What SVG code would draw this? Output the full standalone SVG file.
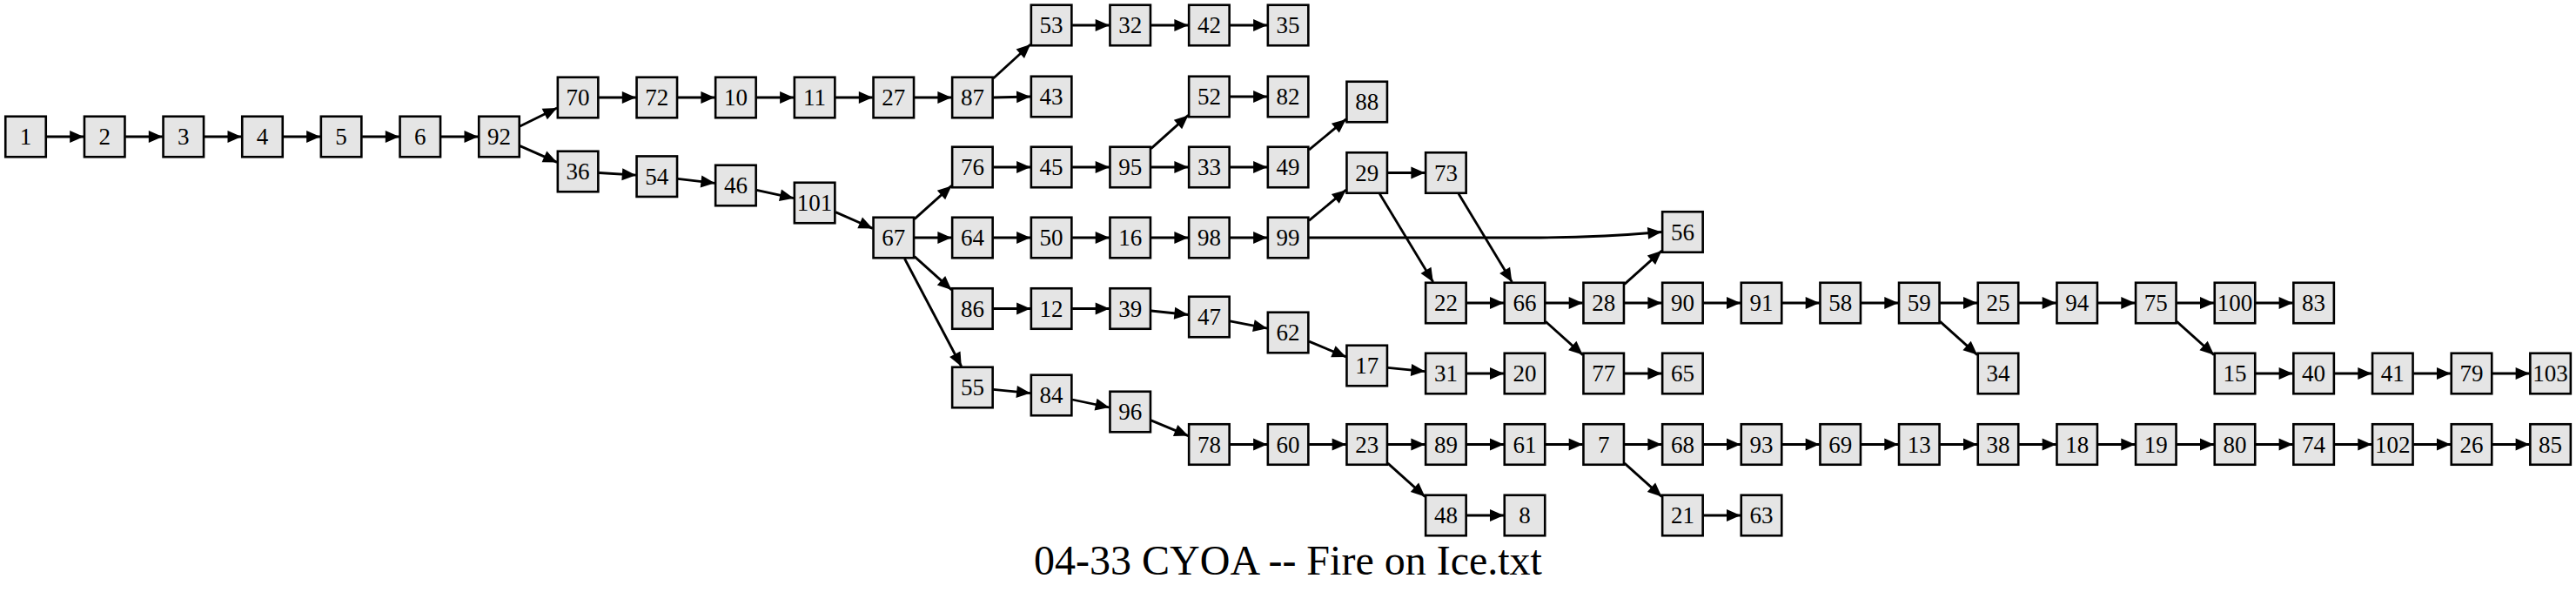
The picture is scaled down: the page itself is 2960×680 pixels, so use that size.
<svg xmlns="http://www.w3.org/2000/svg" width="2960" height="680" viewBox="0 0 2960 680">
<style>
.n text{font-family:"Liberation Serif","Times New Roman",serif;font-size:27px;text-anchor:middle;fill:#000}
.e path{fill:none;stroke:#000;stroke-width:2.8;marker-end:url(#arr)}
.title{font-family:"Liberation Serif","Times New Roman",serif;font-size:48px;text-anchor:middle;fill:#000}
</style>
<defs>
<marker id="arr" markerUnits="userSpaceOnUse" viewBox="0 0 16 14" markerWidth="16" markerHeight="14" refX="16" refY="7" orient="auto" overflow="visible"><path d="M0,0 L16,7 L0,14 z" fill="#000"/></marker>
<rect id="bx" x="-23.25" y="-23.25" width="46.5" height="46.5" fill="#e5e5e5" stroke="#000" stroke-width="2.6"/>
</defs>
<rect width="2960" height="680" fill="#fff"/>
<g id="edges" class="e">
<path d="M53.5,157 H96.2"/>
<path d="M144.2,157 H186.8"/>
<path d="M234.8,157 H277.5"/>
<path d="M325.5,157 H368.1"/>
<path d="M416.1,157 H458.8"/>
<path d="M506.8,157 H549.5"/>
<path d="M597.5,145.1 L640.1,123.9"/>
<path d="M597.5,167.6 L640.1,186.4"/>
<path d="M688.1,112 H730.8"/>
<path d="M778.8,112 H821.4"/>
<path d="M869.4,112 H912.1"/>
<path d="M960.1,112 H1002.8"/>
<path d="M1050.8,112 H1093.4"/>
<path d="M1141.4,90 L1184.1,51"/>
<path d="M1141.4,112 L1184.1,111"/>
<path d="M1232.1,29 H1274.7"/>
<path d="M1322.7,29 H1365.4"/>
<path d="M1413.4,29 H1456.1"/>
<path d="M688.1,198.5 L730.8,201.2"/>
<path d="M778.8,205.4 L821.4,210.3"/>
<path d="M869.4,218.3 L912.1,227.7"/>
<path d="M960.1,243.6 L1002.8,262.4"/>
<path d="M1050.8,251.6 L1093.4,213.4"/>
<path d="M1050.8,273 H1093.4"/>
<path d="M1050.8,294.6 L1093.4,332.9"/>
<path d="M1039.4,297 L1104.8,421"/>
<path d="M1141.4,192 H1184.1"/>
<path d="M1232.1,192 H1274.7"/>
<path d="M1322.7,170.6 L1365.4,132.4"/>
<path d="M1322.7,192 H1365.4"/>
<path d="M1413.4,111 H1456.1"/>
<path d="M1413.4,192 H1456.1"/>
<path d="M1504.1,172.1 L1546.7,136.9"/>
<path d="M1141.4,273 H1184.1"/>
<path d="M1232.1,273 H1274.7"/>
<path d="M1322.7,273 H1365.4"/>
<path d="M1413.4,273 H1456.1"/>
<path d="M1504.1,253.3 L1546.7,218.2"/>
<path d="M1504.1,273 L1770,273 Q1840,272.5 1909.4,266.5"/>
<path d="M1594.7,198.5 H1637.4"/>
<path d="M1585.3,222.5 L1646.8,324"/>
<path d="M1676,222.5 L1737.4,324"/>
<path d="M1685.4,348 H1728"/>
<path d="M1776,348 H1818.7"/>
<path d="M1776,369.4 L1818.7,407.6"/>
<path d="M1866.7,326.4 L1909.4,288.1"/>
<path d="M1866.7,348 H1909.4"/>
<path d="M1957.4,348 H2000"/>
<path d="M2048,348 H2090.7"/>
<path d="M2138.7,348 H2181.3"/>
<path d="M2229.3,348 H2272"/>
<path d="M2229.3,369.4 L2272,407.6"/>
<path d="M2320,348 H2362.7"/>
<path d="M2410.7,348 H2453.3"/>
<path d="M2501.3,348 H2544"/>
<path d="M2501.3,369.4 L2544,407.6"/>
<path d="M2592,348 H2634.6"/>
<path d="M2592,429 H2634.6"/>
<path d="M2682.6,429 H2725.3"/>
<path d="M2773.3,429 H2816"/>
<path d="M2864,429 H2906.6"/>
<path d="M1866.7,429 H1909.4"/>
<path d="M1141.4,354.5 H1184.1"/>
<path d="M1232.1,354.5 H1274.7"/>
<path d="M1322.7,357 L1365.4,361.5"/>
<path d="M1413.4,368.8 L1456.1,377.2"/>
<path d="M1504.1,392.1 L1546.7,409.9"/>
<path d="M1594.7,422.4 L1637.4,426.6"/>
<path d="M1685.4,429 H1728"/>
<path d="M1141.4,447.4 L1184.1,451.6"/>
<path d="M1232.1,459 L1274.7,468"/>
<path d="M1322.7,482.9 L1365.4,500.6"/>
<path d="M1413.4,510.5 H1456.1"/>
<path d="M1504.1,510.5 H1546.7"/>
<path d="M1594.7,510.5 H1637.4"/>
<path d="M1594.7,532.1 L1637.4,570.4"/>
<path d="M1685.4,592 H1728"/>
<path d="M1685.4,510.5 H1728"/>
<path d="M1776,510.5 H1818.7"/>
<path d="M1866.7,510.5 H1909.4"/>
<path d="M1866.7,532.1 L1909.4,570.4"/>
<path d="M1957.4,592 H2000"/>
<path d="M1957.4,510.5 H2000"/>
<path d="M2048,510.5 H2090.7"/>
<path d="M2138.7,510.5 H2181.3"/>
<path d="M2229.3,510.5 H2272"/>
<path d="M2320,510.5 H2362.7"/>
<path d="M2410.7,510.5 H2453.3"/>
<path d="M2501.3,510.5 H2544"/>
<path d="M2592,510.5 H2634.6"/>
<path d="M2682.6,510.5 H2725.3"/>
<path d="M2773.3,510.5 H2816"/>
<path d="M2864,510.5 H2906.6"/>
</g>
<g id="nodes">
<g id="n1" class="n" transform="translate(29.5,157)"><use href="#bx"/><text y="9">1</text></g>
<g id="n2" class="n" transform="translate(120.2,157)"><use href="#bx"/><text y="9">2</text></g>
<g id="n3" class="n" transform="translate(210.8,157)"><use href="#bx"/><text y="9">3</text></g>
<g id="n4" class="n" transform="translate(301.5,157)"><use href="#bx"/><text y="9">4</text></g>
<g id="n5" class="n" transform="translate(392.1,157)"><use href="#bx"/><text y="9">5</text></g>
<g id="n6" class="n" transform="translate(482.8,157)"><use href="#bx"/><text y="9">6</text></g>
<g id="n92" class="n" transform="translate(573.5,157)"><use href="#bx"/><text y="9">92</text></g>
<g id="n70" class="n" transform="translate(664.1,112)"><use href="#bx"/><text y="9">70</text></g>
<g id="n36" class="n" transform="translate(664.1,197)"><use href="#bx"/><text y="9">36</text></g>
<g id="n72" class="n" transform="translate(754.8,112)"><use href="#bx"/><text y="9">72</text></g>
<g id="n54" class="n" transform="translate(754.8,202.7)"><use href="#bx"/><text y="9">54</text></g>
<g id="n10" class="n" transform="translate(845.4,112)"><use href="#bx"/><text y="9">10</text></g>
<g id="n46" class="n" transform="translate(845.4,213)"><use href="#bx"/><text y="9">46</text></g>
<g id="n11" class="n" transform="translate(936.1,112)"><use href="#bx"/><text y="9">11</text></g>
<g id="n101" class="n" transform="translate(936.1,233)"><use href="#bx"/><text y="9">101</text></g>
<g id="n27" class="n" transform="translate(1026.8,112)"><use href="#bx"/><text y="9">27</text></g>
<g id="n67" class="n" transform="translate(1026.8,273)"><use href="#bx"/><text y="9">67</text></g>
<g id="n87" class="n" transform="translate(1117.4,112)"><use href="#bx"/><text y="9">87</text></g>
<g id="n76" class="n" transform="translate(1117.4,192)"><use href="#bx"/><text y="9">76</text></g>
<g id="n64" class="n" transform="translate(1117.4,273)"><use href="#bx"/><text y="9">64</text></g>
<g id="n86" class="n" transform="translate(1117.4,354.5)"><use href="#bx"/><text y="9">86</text></g>
<g id="n55" class="n" transform="translate(1117.4,445)"><use href="#bx"/><text y="9">55</text></g>
<g id="n53" class="n" transform="translate(1208.1,29)"><use href="#bx"/><text y="9">53</text></g>
<g id="n43" class="n" transform="translate(1208.1,111)"><use href="#bx"/><text y="9">43</text></g>
<g id="n45" class="n" transform="translate(1208.1,192)"><use href="#bx"/><text y="9">45</text></g>
<g id="n50" class="n" transform="translate(1208.1,273)"><use href="#bx"/><text y="9">50</text></g>
<g id="n12" class="n" transform="translate(1208.1,354.5)"><use href="#bx"/><text y="9">12</text></g>
<g id="n84" class="n" transform="translate(1208.1,454)"><use href="#bx"/><text y="9">84</text></g>
<g id="n32" class="n" transform="translate(1298.7,29)"><use href="#bx"/><text y="9">32</text></g>
<g id="n95" class="n" transform="translate(1298.7,192)"><use href="#bx"/><text y="9">95</text></g>
<g id="n16" class="n" transform="translate(1298.7,273)"><use href="#bx"/><text y="9">16</text></g>
<g id="n39" class="n" transform="translate(1298.7,354.5)"><use href="#bx"/><text y="9">39</text></g>
<g id="n96" class="n" transform="translate(1298.7,473)"><use href="#bx"/><text y="9">96</text></g>
<g id="n42" class="n" transform="translate(1389.4,29)"><use href="#bx"/><text y="9">42</text></g>
<g id="n52" class="n" transform="translate(1389.4,111)"><use href="#bx"/><text y="9">52</text></g>
<g id="n33" class="n" transform="translate(1389.4,192)"><use href="#bx"/><text y="9">33</text></g>
<g id="n98" class="n" transform="translate(1389.4,273)"><use href="#bx"/><text y="9">98</text></g>
<g id="n47" class="n" transform="translate(1389.4,364)"><use href="#bx"/><text y="9">47</text></g>
<g id="n78" class="n" transform="translate(1389.4,510.5)"><use href="#bx"/><text y="9">78</text></g>
<g id="n35" class="n" transform="translate(1480.1,29)"><use href="#bx"/><text y="9">35</text></g>
<g id="n82" class="n" transform="translate(1480.1,111)"><use href="#bx"/><text y="9">82</text></g>
<g id="n49" class="n" transform="translate(1480.1,192)"><use href="#bx"/><text y="9">49</text></g>
<g id="n99" class="n" transform="translate(1480.1,273)"><use href="#bx"/><text y="9">99</text></g>
<g id="n62" class="n" transform="translate(1480.1,382)"><use href="#bx"/><text y="9">62</text></g>
<g id="n60" class="n" transform="translate(1480.1,510.5)"><use href="#bx"/><text y="9">60</text></g>
<g id="n88" class="n" transform="translate(1570.7,117)"><use href="#bx"/><text y="9">88</text></g>
<g id="n29" class="n" transform="translate(1570.7,198.5)"><use href="#bx"/><text y="9">29</text></g>
<g id="n17" class="n" transform="translate(1570.7,420)"><use href="#bx"/><text y="9">17</text></g>
<g id="n23" class="n" transform="translate(1570.7,510.5)"><use href="#bx"/><text y="9">23</text></g>
<g id="n73" class="n" transform="translate(1661.4,198.5)"><use href="#bx"/><text y="9">73</text></g>
<g id="n22" class="n" transform="translate(1661.4,348)"><use href="#bx"/><text y="9">22</text></g>
<g id="n31" class="n" transform="translate(1661.4,429)"><use href="#bx"/><text y="9">31</text></g>
<g id="n89" class="n" transform="translate(1661.4,510.5)"><use href="#bx"/><text y="9">89</text></g>
<g id="n48" class="n" transform="translate(1661.4,592)"><use href="#bx"/><text y="9">48</text></g>
<g id="n66" class="n" transform="translate(1752,348)"><use href="#bx"/><text y="9">66</text></g>
<g id="n20" class="n" transform="translate(1752,429)"><use href="#bx"/><text y="9">20</text></g>
<g id="n61" class="n" transform="translate(1752,510.5)"><use href="#bx"/><text y="9">61</text></g>
<g id="n8" class="n" transform="translate(1752,592)"><use href="#bx"/><text y="9">8</text></g>
<g id="n28" class="n" transform="translate(1842.7,348)"><use href="#bx"/><text y="9">28</text></g>
<g id="n77" class="n" transform="translate(1842.7,429)"><use href="#bx"/><text y="9">77</text></g>
<g id="n7" class="n" transform="translate(1842.7,510.5)"><use href="#bx"/><text y="9">7</text></g>
<g id="n56" class="n" transform="translate(1933.4,266.5)"><use href="#bx"/><text y="9">56</text></g>
<g id="n90" class="n" transform="translate(1933.4,348)"><use href="#bx"/><text y="9">90</text></g>
<g id="n65" class="n" transform="translate(1933.4,429)"><use href="#bx"/><text y="9">65</text></g>
<g id="n68" class="n" transform="translate(1933.4,510.5)"><use href="#bx"/><text y="9">68</text></g>
<g id="n21" class="n" transform="translate(1933.4,592)"><use href="#bx"/><text y="9">21</text></g>
<g id="n91" class="n" transform="translate(2024,348)"><use href="#bx"/><text y="9">91</text></g>
<g id="n93" class="n" transform="translate(2024,510.5)"><use href="#bx"/><text y="9">93</text></g>
<g id="n63" class="n" transform="translate(2024,592)"><use href="#bx"/><text y="9">63</text></g>
<g id="n58" class="n" transform="translate(2114.7,348)"><use href="#bx"/><text y="9">58</text></g>
<g id="n69" class="n" transform="translate(2114.7,510.5)"><use href="#bx"/><text y="9">69</text></g>
<g id="n59" class="n" transform="translate(2205.3,348)"><use href="#bx"/><text y="9">59</text></g>
<g id="n13" class="n" transform="translate(2205.3,510.5)"><use href="#bx"/><text y="9">13</text></g>
<g id="n25" class="n" transform="translate(2296,348)"><use href="#bx"/><text y="9">25</text></g>
<g id="n34" class="n" transform="translate(2296,429)"><use href="#bx"/><text y="9">34</text></g>
<g id="n38" class="n" transform="translate(2296,510.5)"><use href="#bx"/><text y="9">38</text></g>
<g id="n94" class="n" transform="translate(2386.7,348)"><use href="#bx"/><text y="9">94</text></g>
<g id="n18" class="n" transform="translate(2386.7,510.5)"><use href="#bx"/><text y="9">18</text></g>
<g id="n75" class="n" transform="translate(2477.3,348)"><use href="#bx"/><text y="9">75</text></g>
<g id="n19" class="n" transform="translate(2477.3,510.5)"><use href="#bx"/><text y="9">19</text></g>
<g id="n100" class="n" transform="translate(2568,348)"><use href="#bx"/><text y="9">100</text></g>
<g id="n15" class="n" transform="translate(2568,429)"><use href="#bx"/><text y="9">15</text></g>
<g id="n80" class="n" transform="translate(2568,510.5)"><use href="#bx"/><text y="9">80</text></g>
<g id="n83" class="n" transform="translate(2658.6,348)"><use href="#bx"/><text y="9">83</text></g>
<g id="n40" class="n" transform="translate(2658.6,429)"><use href="#bx"/><text y="9">40</text></g>
<g id="n74" class="n" transform="translate(2658.6,510.5)"><use href="#bx"/><text y="9">74</text></g>
<g id="n41" class="n" transform="translate(2749.3,429)"><use href="#bx"/><text y="9">41</text></g>
<g id="n102" class="n" transform="translate(2749.3,510.5)"><use href="#bx"/><text y="9">102</text></g>
<g id="n79" class="n" transform="translate(2840,429)"><use href="#bx"/><text y="9">79</text></g>
<g id="n26" class="n" transform="translate(2840,510.5)"><use href="#bx"/><text y="9">26</text></g>
<g id="n103" class="n" transform="translate(2930.6,429)"><use href="#bx"/><text y="9">103</text></g>
<g id="n85" class="n" transform="translate(2930.6,510.5)"><use href="#bx"/><text y="9">85</text></g>
</g>
<text class="title" x="1480" y="660">04-33 CYOA -- Fire on Ice.txt</text>
</svg>
